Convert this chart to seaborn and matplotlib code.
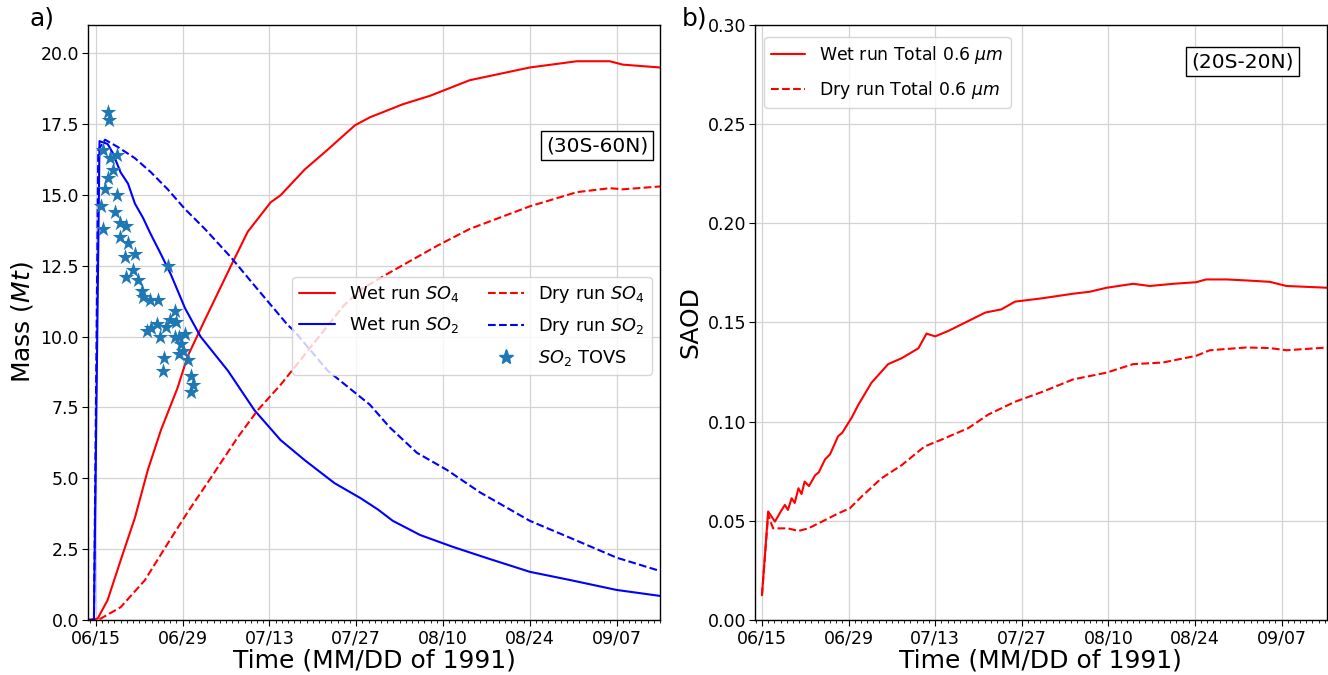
import numpy as np
import pandas as pd
import matplotlib
matplotlib.use("Agg")
import matplotlib.pyplot as plt
import matplotlib.dates as mdates
from matplotlib.lines import Line2D
import seaborn as sns

# ---------------- data (days after 1991-06-15) ----------------
start_date = "1991-06-15"
tick_labels = ["06/15", "06/29", "07/13", "07/27", "08/10", "08/24", "09/07"]

wet_so4_days = [-1.2, 0.3, 1.9, 4, 6.3, 8.4, 10.5, 13.2, 14.8, 17.5, 21.8, 24.5, 28.2, 29.8,
                33.7, 37.4, 41.8, 44.2, 49.5, 53.9, 60.3, 70, 77.6, 82.9, 85, 91]
wet_so4_mass = [0, 0.05, 0.7, 2.1, 3.6, 5.3, 6.7, 8.2, 9.3, 10.55, 12.5, 13.7, 14.74, 14.99,
                15.9, 16.6, 17.46, 17.74, 18.2, 18.5, 19.05, 19.5, 19.72, 19.72, 19.6, 19.5]

dry_so4_days = [-1.2, 0.8, 4, 7.9, 11.6, 14.8, 18.5, 22.9, 26.1, 29.8, 32, 36, 40, 43, 46.9,
                55, 60.3, 70, 77.6, 82.9, 85, 91]
dry_so4_mass = [0, 0.05, 0.45, 1.4, 2.7, 3.8, 5.0, 6.45, 7.4, 8.3, 8.9, 10.0, 11.1, 11.7, 12.2,
                13.2, 13.8, 14.6, 15.1, 15.24, 15.2, 15.3]

wet_so2_days = [-1.2, -0.3, 0.6, 1.9, 2.7, 4, 5.2, 6.3, 7.6, 8.9, 10.3, 12.1, 14.4, 16.9, 21.3,
                25.6, 29.8, 33.7, 38.5, 42.7, 45.5, 47.9, 52.3, 57.6, 63, 70, 76.5, 84, 91]
wet_so2_mass = [0, 0, 16.9, 16.8, 16.5, 15.8, 15.4, 14.7, 14.2, 13.6, 13.0, 12.2, 11.0, 10.0, 8.8,
                7.4, 6.35, 5.64, 4.83, 4.3, 3.9, 3.5, 3.0, 2.58, 2.19, 1.7, 1.41, 1.06, 0.85]

dry_so2_days = [-1.2, -0.3, 0.4, 1.5, 3.5, 6.3, 8.9, 11.6, 14.4, 17.6, 21.8, 25.6, 31, 32, 37.4,
                44.2, 47.4, 51.8, 56.6, 62, 70, 76.5, 84, 91]
dry_so2_mass = [0, 0, 16.6, 16.95, 16.7, 16.3, 15.8, 15.2, 14.5, 13.8, 12.8, 11.8, 10.4, 10.2, 8.8,
                7.6, 6.8, 5.9, 5.3, 4.5, 3.5, 2.9, 2.2, 1.73]

tovs_days = [2.0, 2.1, 1.2, 2.3, 3.5, 2.8, 2.0, 1.45, 3.5, 0.9, 3.1, 1.1, 3.9, 4.95, 3.9, 5.2,
             4.7, 6.3, 11.7, 4.95, 6.0, 6.8, 7.4, 7.6, 8.7, 10.0, 8.9, 10.3, 11.4, 12.7, 13.0,
             13.5, 14.1, 13.5, 14.9, 11.0, 10.9, 15.4, 15.7, 15.4, 9.8, 11.9, 8.2, 12.7, 13.8, 14.4]
tovs_mass = [17.93, 17.66, 16.58, 16.3, 16.4, 15.87, 15.6, 15.2, 15.0, 14.6, 14.4, 13.8, 14.0, 13.9,
             13.5, 13.3, 12.8, 12.9, 12.5, 12.1, 12.35, 12.0, 11.6, 11.4, 11.3, 11.3, 10.3, 10.0,
             10.35, 10.9, 10.5, 10.0, 9.5, 9.4, 9.17, 9.25, 8.8, 8.6, 8.3, 8.05, 10.45, 10.6, 10.2,
             10.0, 9.75, 10.1]

wet_saod_days = [0, 1.0, 2.1, 3.0, 3.7, 4.2, 4.8, 5.3, 5.9, 6.4, 6.9, 7.6, 8.6, 9.2, 10.2, 11.0,
                 12.3, 13.0, 14.5, 15.6, 17.7, 20.4, 22.6, 25.3, 26.6, 28, 30.1, 33.4, 36.1, 38.7,
                 40.9, 45.3, 50.3, 53, 55.7, 60, 62.7, 66.5, 70.2, 71.8, 75.1, 78.3, 82.1, 84.8, 91.5]
wet_saod = [0.0125, 0.0547, 0.0496, 0.0545, 0.058, 0.0555, 0.0614, 0.059, 0.0664, 0.0635, 0.0698,
            0.0675, 0.073, 0.0745, 0.081, 0.0835, 0.0926, 0.0945, 0.102, 0.1086, 0.1196, 0.129,
            0.132, 0.137, 0.1444, 0.143, 0.1457, 0.1508, 0.155, 0.1566, 0.1605, 0.1622, 0.1645,
            0.1655, 0.1675, 0.1695, 0.1684, 0.1695, 0.1703, 0.1717, 0.1717, 0.1712, 0.1705,
            0.1684, 0.1675]

dry_saod_days = [0, 1.0, 1.8, 4.2, 5.9, 7.5, 9.7, 12.3, 14.2, 16.1, 19.3, 22.6, 26.3, 29, 33.4,
                 36.6, 40.9, 45.3, 50.3, 55.7, 60, 64.8, 70.2, 72.4, 78.3, 82.1, 84.8, 91.5]
dry_saod = [0.0125, 0.053, 0.0462, 0.0462, 0.0449, 0.0462, 0.0496, 0.0537, 0.0563, 0.0622, 0.0714,
            0.0781, 0.0875, 0.0909, 0.0968, 0.1036, 0.110, 0.115, 0.1213, 0.1247, 0.129, 0.1298,
            0.1332, 0.136, 0.1374, 0.1371, 0.136, 0.1374]

# ---------------- helpers ----------------
t0 = pd.Timestamp(start_date)


def to_dates(days):
    return t0 + pd.to_timedelta(np.asarray(days, dtype=float), unit="D")


sns.set_style("ticks")
plt.rcParams["font.family"] = ["DejaVu Sans"]
plt.rcParams["mathtext.fontset"] = "dejavusans"
for key in ("text.color", "axes.labelcolor", "xtick.color", "ytick.color"):
    plt.rcParams[key] = "black"

fig = plt.figure(figsize=(13.28, 6.75), dpi=100)
ax1 = fig.add_axes([0.0663, 0.0815, 0.4307, 0.8815])
ax2 = fig.add_axes([0.5685, 0.0815, 0.4305, 0.8815])

tick_dates = [pd.Timestamp("1991/" + s) for s in tick_labels]

lw = 1.5
# ---- panel a ----
sns.lineplot(x=to_dates(wet_so4_days), y=wet_so4_mass, ax=ax1, color="red", lw=lw,
             linestyle="-", estimator=None)
sns.lineplot(x=to_dates(wet_so2_days), y=wet_so2_mass, ax=ax1, color="blue", lw=lw,
             linestyle="-", estimator=None)
sns.lineplot(x=to_dates(dry_so4_days), y=dry_so4_mass, ax=ax1, color="red", lw=lw,
             linestyle="--", estimator=None)
sns.lineplot(x=to_dates(dry_so2_days), y=dry_so2_mass, ax=ax1, color="blue", lw=lw,
             linestyle="--", estimator=None)
sns.scatterplot(x=to_dates(tovs_days), y=tovs_mass, ax=ax1, color="#1f77b4", marker="*",
                s=140, linewidth=0, zorder=3)

handles = [Line2D([], [], color="red", lw=lw, ls="-"),
           Line2D([], [], color="blue", lw=lw, ls="-"),
           Line2D([], [], ls="none"),
           Line2D([], [], color="red", lw=lw, ls="--"),
           Line2D([], [], color="blue", lw=lw, ls="--"),
           Line2D([], [], color="#1f77b4", ls="none", marker="*", markersize=11)]
labels = ["Wet run $SO_4$", "Wet run $SO_2$", " ",
          "Dry run $SO_4$", "Dry run $SO_2$", "$SO_2$ TOVS"]
ax1.legend(handles, labels, ncol=2, loc="upper right", bbox_to_anchor=(0.986, 0.577),
           borderaxespad=0, fontsize=12.8, frameon=True, columnspacing=1.6,
           labelspacing=0.62)

ax1.set_ylim(0, 21)
ax1.set_yticks(np.arange(0, 20.01, 2.5))
ax1.yaxis.set_major_formatter(matplotlib.ticker.FormatStrFormatter("%.1f"))
ax1.set_xlim(to_dates([-1.25])[0], to_dates([91.0])[0])
ax1.set_ylabel("Mass ($Mt$)", fontsize=18)
ax1.text(0.89, 0.797, "(30S-60N)", transform=ax1.transAxes, fontsize=14.5, ha="center",
         va="center", bbox=dict(boxstyle="square,pad=0.25", fc="white", ec="black", lw=1))

# ---- panel b ----
sns.lineplot(x=to_dates(wet_saod_days), y=wet_saod, ax=ax2, color="red", lw=lw,
             linestyle="-", estimator=None, label="Wet run Total 0.6 $\\mu m$")
sns.lineplot(x=to_dates(dry_saod_days), y=dry_saod, ax=ax2, color="red", lw=lw,
             linestyle="--", estimator=None, label="Dry run Total 0.6 $\\mu m$")
ax2.legend(loc="upper left", bbox_to_anchor=(0.016, 0.98), borderaxespad=0, fontsize=12.4,
           labelspacing=0.75)
ax2.set_ylim(0, 0.30)
ax2.set_yticks(np.arange(0, 0.301, 0.05))
ax2.yaxis.set_major_formatter(matplotlib.ticker.FormatStrFormatter("%.2f"))
ax2.set_xlim(to_dates([-1.13])[0], to_dates([91.3])[0])
ax2.set_ylabel("SAOD", fontsize=18)
ax2.text(0.853, 0.938, "(20S-20N)", transform=ax2.transAxes, fontsize=14.5, ha="center",
         va="center", bbox=dict(boxstyle="square,pad=0.25", fc="white", ec="black", lw=1))

for ax in (ax1, ax2):
    ax.set_xticks(tick_dates)
    ax.xaxis.set_major_formatter(mdates.DateFormatter("%m/%d"))
    ax.xaxis.set_minor_locator(mdates.DayLocator())
    ax.set_xlabel("Time (MM/DD of 1991)", fontsize=18, labelpad=1)
    ax.tick_params(axis="both", which="major", labelsize=12.5, length=4, color="black", pad=2.5)
    ax.tick_params(axis="x", which="minor", length=2)
    ax.grid(True, which="major", color="#d3d3d3", lw=0.9)
    for sp in ax.spines.values():
        sp.set_color("black")
        sp.set_linewidth(1.0)

fig.text(0.022, 0.99, "a)", fontsize=18, ha="left", va="top")
fig.text(0.513, 0.99, "b)", fontsize=18, ha="left", va="top")

fig.savefig("out.png", dpi=100)
